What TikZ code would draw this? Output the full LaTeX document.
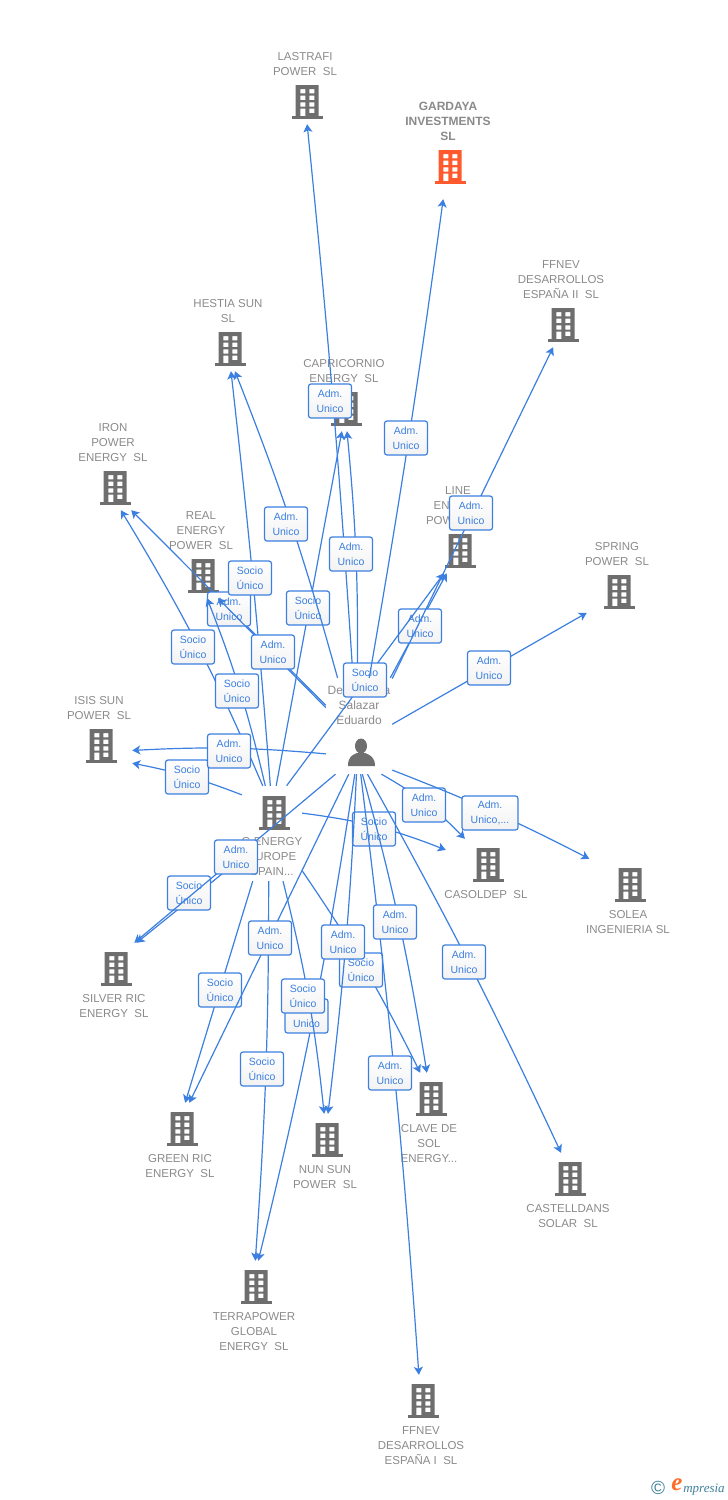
\documentclass[tikz,border=0pt]{standalone}
\usepackage{fontspec}
\setmainfont{Liberation Sans}
\newfontfamily\logofont{Liberation Serif}
\usepackage{tikz}
\usetikzlibrary{positioning,arrows.meta}
\definecolor{linkblue}{HTML}{3B7FE0}
\definecolor{icongray}{HTML}{6E6E6E}
\definecolor{namegray}{HTML}{8A8A8A}
\definecolor{hotorange}{HTML}{FF5A2D}
\definecolor{logoteal}{HTML}{3F7F9A}
\tikzset{
	co/.style={rectangle,minimum width=84,minimum height=48,inner sep=0},
	hub/.style={rectangle,inner sep=0},
	coname/.style={align=center,inner sep=0,text=namegray,font=\fontsize{11.5}{15}\selectfont},
	lnk/.style={draw=linkblue,line width=1.2,-{Stealth[length=8,width=9,inset=2]}},
	role/.style={rectangle,rounded corners=2.5,draw=linkblue,line width=1.2,top color=white,bottom color=black!5,text=linkblue,align=center,minimum width=43,minimum height=34,inner sep=0,font=\fontsize{10.5}{15}\selectfont},
	pics/bldg/.style={code={
		\fill[#1,even odd rule] (-9.5,-15) rectangle (13.5,16.5)
			(-4.7,-11) rectangle (0.3,-6.7) (4.3,-11) rectangle (9.3,-6.7)
			(-4.7,-4.3) rectangle (0.3,0) (4.3,-4.3) rectangle (9.3,0)
			(-4.7,2.3) rectangle (0.3,6.7) (4.3,2.3) rectangle (9.3,6.7)
			(-4.7,8.7) rectangle (0.3,16.5) (4.3,8.7) rectangle (9.3,13);
		\fill[#1] (-13.5,16) rectangle (17.5,18.5);
	}}
}
\begin{document}
\begin{tikzpicture}[x=1pt,y=-1pt]
	\useasboundingbox (0,0) rectangle (728,1500);

	\node[co] (lastrafi) at (305,100) {};
	\pic at (lastrafi) {bldg=icongray};
	\node[coname,above=0pt of lastrafi] (lastrafitext) {LASTRAFI\\POWER\ \ SL};
	\node[co,minimum height=68] (gardaya) at (448,165) {};
	\pic at (gardaya) {bldg=hotorange};
	\node[coname,above=-10pt of gardaya,font=\fontsize{12}{15}\selectfont\bfseries] (gardayatext) {GARDAYA\\INVESTMENTS\\SL};
	\node[co] (ffnevii) at (561,323) {};
	\pic at (ffnevii) {bldg=icongray};
	\node[coname,above=0pt of ffnevii] (ffneviitext) {FFNEV\\DESARROLLOS\\ESPAÑA II\ \ SL};
	\node[co] (hestia) at (228,347) {};
	\pic at (hestia) {bldg=icongray};
	\node[coname,above=0pt of hestia] (hestiatext) {HESTIA SUN\\SL};
	\node[co] (capricornio) at (344,407) {};
	\pic at (capricornio) {bldg=icongray};
	\node[coname,above=0pt of capricornio] (capricorniotext) {CAPRICORNIO\\ENERGY\ \ SL};
	\node[co] (iron) at (113,486) {};
	\pic at (iron) {bldg=icongray};
	\node[coname,above=0pt of iron] (irontext) {IRON\\POWER\\ENERGY\ \ SL};
	\node[co] (real) at (201,574) {};
	\pic at (real) {bldg=icongray};
	\node[coname,above=0pt of real] (realtext) {REAL\\ENERGY\\POWER\ \ SL};
	\node[co] (line) at (458,549) {};
	\pic at (line) {bldg=icongray};
	\node[coname,above=0pt of line] (linetext) {LINE\\ENERGY\\POWER\ \ SL};
	\node[co,minimum width=60] (spring) at (617,590) {};
	\pic at (spring) {bldg=icongray};
	\node[coname,above=0pt of spring] (springtext) {SPRING\\POWER\ \ SL};
	\node[co,minimum width=66] (isis) at (99,744) {};
	\pic at (isis) {bldg=icongray};
	\node[coname,above=0pt of isis] (isistext) {ISIS SUN\\POWER\ \ SL};
	\node[co,minimum width=80] (casoldep) at (486,863) {};
	\pic at (casoldep) {bldg=icongray};
	\node[coname,below=3pt of casoldep] (casoldeptext) {CASOLDEP\ \ SL};
	\node[co,minimum width=78] (solea) at (628,883) {};
	\pic at (solea) {bldg=icongray};
	\node[coname,below=3pt of solea] (soleatext) {SOLEA\\INGENIERIA SL};
	\node[co] (silver) at (114,967) {};
	\pic at (silver) {bldg=icongray};
	\node[coname,below=3.5pt of silver] (silvertext) {SILVER RIC\\ENERGY\ \ SL};
	\node[co] (green) at (180,1127) {};
	\pic at (green) {bldg=icongray};
	\node[coname,below=3.5pt of green] (greentext) {GREEN RIC\\ENERGY\ \ SL};
	\node[co] (nun) at (325,1138) {};
	\pic at (nun) {bldg=icongray};
	\node[coname,below=3.5pt of nun] (nuntext) {NUN SUN\\POWER\ \ SL};
	\node[co] (clave) at (429,1097) {};
	\pic at (clave) {bldg=icongray};
	\node[coname,below=3.5pt of clave] (clavetext) {CLAVE DE\\SOL\\ENERGY...};
	\node[co] (castelldans) at (568,1177) {};
	\pic at (castelldans) {bldg=icongray};
	\node[coname,below=3.5pt of castelldans] (castelldanstext) {CASTELLDANS\\SOLAR\ \ SL};
	\node[co] (terrapower) at (254,1285) {};
	\pic at (terrapower) {bldg=icongray};
	\node[coname,below=3.5pt of terrapower] (terrapowertext) {TERRAPOWER\\GLOBAL\\ENERGY\ \ SL};
	\node[co] (ffnevi) at (421,1399) {};
	\pic at (ffnevi) {bldg=icongray};
	\node[coname,below=3.5pt of ffnevi] (ffnevitext) {FFNEV\\DESARROLLOS\\ESPAÑA I\ \ SL};

	\node[hub,minimum width=60,minimum height=95] (gen) at (272,833.5) {};
	\pic at (272,811) {bldg=icongray};
	\node[coname] (gentext) at (272,857) {G ENERGY\\EUROPE\\SPAIN...};

	\node[hub,minimum width=66,minimum height=96] (pe) at (359,726) {};
	\fill[icongray] (361,746) ellipse (6 and 7.5);
	\fill[icongray] (348,766) .. controls (348,757) and (352,755) .. (357,753) -- (365,753) .. controls (370,755) and (375,757) .. (375,766) -- cycle;
	\node[coname,font=\fontsize{12}{15}\selectfont] (petext) at (359,705) {De La Vega\\Salazar\\Eduardo};

	\draw[lnk] (pe.148.8) -- (iron.307);
	\node[role] (admiron) at (229,609) {Adm.\\Unico};
	\draw[lnk] (pe.57) -- (line.245);
	\node[role] (admline) at (420,626) {Adm.\\Unico};
	\draw[lnk] (pe.97) to[bend right=1] (lastrafi.275);
	\node[role] (admlastrafi) at (330,401) {Adm.\\Unico};
	\draw[lnk] (pe.92.4) to[bend right=3] (capricornio.277);
	\node[role] (admcapricornio) at (351,554) {Adm.\\Unico};
	\draw[lnk] (pe.265.2) to[bend left=2.5] (terrapower.80.5);
	\node[role] (admterrapower) at (306.5,1016) {Adm.\\Unico};

	\draw[lnk] (gen.85.2) -- (capricornio.265);
	\node[role] (sociocapricornio) at (308,608) {Socio\\Único};
	\draw[lnk] (gen.92.4) to[bend right=1] (hestia.277);
	\node[role] (sociohestia) at (250,578) {Socio\\Único};
	\draw[lnk] (gen.101.9) to[bend right=4] (iron.288);
	\node[role] (socioiron) at (193,647) {Socio\\Único};
	\draw[lnk] (gen.98.4) to[bend right=4] (real.284);
	\node[role] (socioreal) at (237,691) {Socio\\Único};
	\draw[lnk] (gen.73.6) -- (line.240);
	\node[role] (socioline) at (365,680) {Socio\\Único};
	\draw[lnk] (gen.128.7) to[bend right=5] (isis.330);
	\node[role] (socioisis) at (187,777) {Socio\\Único};
	\draw[lnk] (gen.34.3) to[bend left=7] (casoldep.162);
	\node[role] (sociocasoldep) at (374,829) {Socio\\Único};
	\draw[lnk] (gen.219.2) -- (silver.47.5);
	\node[role] (sociosilver) at (189,893) {Socio\\Único};
	\draw[lnk] (gen.248.2) -- (green.78);
	\node[role] (sociogreen) at (220,990) {Socio\\Único};
	\draw[lnk] (gen.266.4) to[bend left=2] (terrapower.87.6);
	\node[role] (socioterrapower) at (262,1069) {Socio\\Único};
	\draw[lnk] (gen.283) to[bend left=4] (nun.92.4);
	\node[role] (socionun) at (303,996) {Socio\\Único};
	\draw[lnk] (gen.309.4) to[bend left=4] (clave.110.6);
	\node[role] (socioclave) at (361,970) {Socio\\Único};

	\draw[lnk] (pe.114.6) to[bend right=3] (hestia.286);
	\node[role] (admhestia) at (286,524) {Adm.\\Unico};
	\draw[lnk] (pe.151.4) -- (real.305);
	\node[role] (admreal) at (273,652) {Adm.\\Unico};
	\draw[lnk] (pe.78.2) to[bend right=1] (gardaya.262);
	\node[role] (admgardaya) at (406,438) {Adm.\\Unico};
	\draw[lnk] (pe.55.5) -- (ffnevii.252);
	\node[role] (admffnevii) at (471,513) {Adm.\\Unico};
	\draw[lnk] (pe.3.5) -- (spring.217.5);
	\node[role] (admspring) at (489,668) {Adm.\\Unico};
	\draw[lnk] (pe.220.3) to[bend right=4] (isis.349.7);
	\node[role] (admisis) at (229,751) {Adm.\\Unico};
	\draw[lnk] (pe.295.6) to[bend left=8] (casoldep.131);
	\node[role] (admcasoldep) at (424,805) {Adm.\\Unico};
	\draw[lnk] (pe.307) to[bend left=3] (solea.148.4);
	\node[role,minimum width=56] (admsolea) at (490,813) {Adm.\\Unico,...};
	\draw[lnk] (pe.244.4) -- (silver.50);
	\node[role] (admsilver) at (236,857) {Adm.\\Unico};
	\draw[lnk] (pe.258.2) -- (green.69);
	\node[role] (admgreen) at (270,938) {Adm.\\Unico};
	\draw[lnk] (pe.267.6) to[bend left=2] (nun.83);
	\node[role] (admnun) at (343,942) {Adm.\\Unico};
	\draw[lnk] (pe.272.4) to[bend left=1.5] (ffnevi.95);
	\node[role] (admffnevi) at (390,1073) {Adm.\\Unico};
	\draw[lnk] (pe.274.8) to[bend left=3] (clave.95);
	\node[role] (admclave) at (395,922) {Adm.\\Unico};
	\draw[lnk] (pe.280.6) to[bend left=2] (castelldans.106);
	\node[role] (admcastelldans) at (464,962) {Adm.\\Unico};

	\node[inner sep=0,text=logoteal,font=\fontsize{19}{19}\selectfont] (logoc) at (658,1488) {©};
	\node[inner sep=0,text=hotorange!90!yellow,font=\logofont\bfseries\itshape\fontsize{25}{25}\selectfont] (logoe) at (677,1485) {e};
	\node[inner sep=0,text=logoteal,font=\logofont\itshape\fontsize{13}{13}\selectfont] (logotext) at (704,1490) {mpresia};
\end{tikzpicture}
\end{document}
